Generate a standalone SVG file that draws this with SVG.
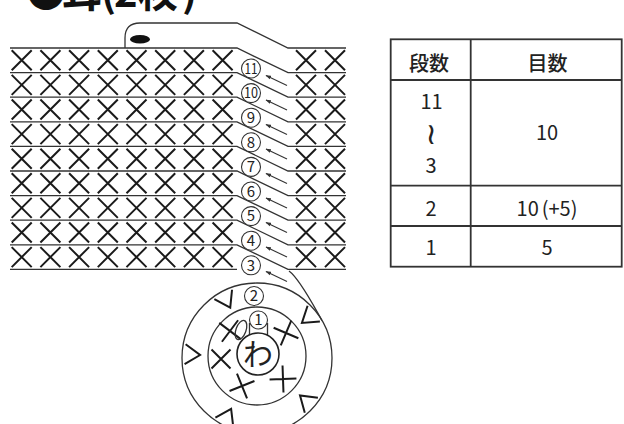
<svg xmlns="http://www.w3.org/2000/svg" width="624" height="424" viewBox="0 0 624 424">
<style>
.ln{fill:none;stroke:#333;stroke-width:1.3}
.st{fill:none;stroke:#1a1a1a;stroke-width:2;stroke-linecap:butt}
.ar{fill:none;stroke:#333;stroke-width:1.1}
.cn{fill:#fff;stroke:#333;stroke-width:1.1}
.num{font-family:"Noto Sans CJK JP","Noto Sans",sans-serif;font-size:15px;fill:#222;text-anchor:middle}
.tb{fill:none;stroke:#333;stroke-width:1.8}
.th{font-family:"Noto Sans CJK JP",sans-serif;font-size:20px;font-weight:500;fill:#222;text-anchor:middle}
.td{font-family:"Noto Sans CJK JP","Noto Sans",sans-serif;font-size:20px;fill:#222;text-anchor:middle}
</style>
<defs>
<path id="x" d="M-10,-10 L10,10 M10,-10 L-10,10" class="st"/>
<path id="xr" d="M-9.5,-9.5 L9.5,9.5 M9.5,-9.5 L-9.5,9.5" class="st"/>
<path id="v" d="M72,-10 L57,0 L72,10" class="st"/>
<g id="rowx">
<use href="#x" x="21.7"/><use href="#x" x="50.4"/><use href="#x" x="79.1"/><use href="#x" x="107.8"/>
<use href="#x" x="136.5"/><use href="#x" x="165.2"/><use href="#x" x="193.9"/><use href="#x" x="222.6"/>
<use href="#x" x="306"/><use href="#x" x="335"/>
</g>
<marker id="ah" viewBox="0 0 10 10" refX="9" refY="5" markerWidth="5" markerHeight="5" orient="auto"><path d="M0,1.5 L10,5 L0,8.5 z" fill="#333"/></marker>
</defs>

<g id="title">
<text x="26 62 101 114 138 182" y="7" font-family="Noto Sans CJK JP, sans-serif" font-size="40" font-weight="bold" fill="#111">●耳(2枚)</text>
</g>

<g id="connectors">
<path class="ln" d="M125,48 L125,38 Q125,23 140,23 L237,23 L288,48 L346,48"/>
<path class="ln" d="M10,48 L237,48 L288,72.6 L346,72.6"/>
<path class="ln" d="M10,72.6 L237,72.6 L288,97.2 L346,97.2"/>
<path class="ln" d="M10,97.2 L237,97.2 L288,121.8 L346,121.8"/>
<path class="ln" d="M10,121.8 L237,121.8 L288,146.4 L346,146.4"/>
<path class="ln" d="M10,146.4 L237,146.4 L288,171 L346,171"/>
<path class="ln" d="M10,171 L237,171 L288,195.6 L346,195.6"/>
<path class="ln" d="M10,195.6 L237,195.6 L288,220.2 L346,220.2"/>
<path class="ln" d="M10,220.2 L237,220.2 L288,244.8 L346,244.8"/>
<path class="ln" d="M10,244.8 L237,244.8 L288,269.4 L346,269.4"/>
<path class="ln" d="M10,269.4 L237,269.4"/>
<path class="ln" d="M289,271 C300,279 314,306.6 322,320.5"/>
<g marker-end="url(#ah)">
<line class="ar" x1="287" y1="85.5" x2="266" y2="75.5"/>
<line class="ar" x1="287" y1="110" x2="266" y2="100"/>
<line class="ar" x1="287" y1="134.5" x2="266" y2="124.5"/>
<line class="ar" x1="287" y1="159" x2="266" y2="149"/>
<line class="ar" x1="287" y1="183.5" x2="266" y2="173.5"/>
<line class="ar" x1="287" y1="208" x2="266" y2="198"/>
<line class="ar" x1="287" y1="232.5" x2="266" y2="222.5"/>
<line class="ar" x1="287" y1="257" x2="266" y2="247"/>
<line class="ar" x1="287" y1="281.5" x2="266" y2="271.5"/>
</g>
</g>

<g id="chain-start">
<ellipse cx="140" cy="39.3" rx="10" ry="4.3" fill="#111"/>
</g>

<g id="row11"><use href="#rowx" y="60.3"/><circle class="cn" cx="251" cy="68.5" r="9.5"/><text class="num" x="251" y="73.8" textLength="13" lengthAdjust="spacingAndGlyphs">11</text></g>
<g id="row10"><use href="#rowx" y="84.9"/><circle class="cn" cx="251" cy="93.1" r="9.5"/><text class="num" x="251" y="98.4" textLength="14" lengthAdjust="spacingAndGlyphs">10</text></g>
<g id="row9"><use href="#rowx" y="109.5"/><circle class="cn" cx="251" cy="117.7" r="9.5"/><text class="num" x="251" y="123">9</text></g>
<g id="row8"><use href="#rowx" y="134.1"/><circle class="cn" cx="251" cy="142.3" r="9.5"/><text class="num" x="251" y="147.6">8</text></g>
<g id="row7"><use href="#rowx" y="158.7"/><circle class="cn" cx="251" cy="166.9" r="9.5"/><text class="num" x="251" y="172.2">7</text></g>
<g id="row6"><use href="#rowx" y="183.3"/><circle class="cn" cx="251" cy="191.5" r="9.5"/><text class="num" x="251" y="196.8">6</text></g>
<g id="row5"><use href="#rowx" y="207.9"/><circle class="cn" cx="251" cy="216.1" r="9.5"/><text class="num" x="251" y="221.4">5</text></g>
<g id="row4"><use href="#rowx" y="232.5"/><circle class="cn" cx="251" cy="240.7" r="9.5"/><text class="num" x="251" y="246">4</text></g>
<g id="row3"><use href="#rowx" y="257.1"/><circle class="cn" cx="251" cy="265.3" r="9.5"/><text class="num" x="251" y="270.6">3</text></g>

<g id="round2">
<circle class="ln" cx="257" cy="358" r="75"/>
<g transform="translate(257,358)">
<use href="#v" transform="rotate(-118)"/>
<use href="#v" transform="rotate(-38)"/>
<use href="#v" transform="rotate(41)"/>
<use href="#v" transform="rotate(117)"/>
<use href="#v" transform="rotate(183)"/>
</g>
<circle class="cn" cx="254" cy="296" r="9.5"/>
<text class="num" x="254" y="301.3">2</text>
</g>

<g id="round1">
<circle class="ln" cx="257" cy="356" r="49"/>
<use href="#xr" transform="translate(230,331) rotate(-8)"/>
<use href="#xr" transform="translate(221,359)"/>
<use href="#xr" transform="translate(242,386) rotate(23)"/>
<use href="#xr" transform="translate(283,379) rotate(43)"/>
<use href="#xr" transform="translate(286,333) rotate(-22)"/>
<ellipse class="ln" cx="241" cy="330" rx="5" ry="10" transform="rotate(20 241 330)"/>
<path class="ln" d="M249.5,323 L249.5,336 M267.5,323 L267.5,336"/>
<circle class="cn" cx="258.5" cy="320" r="9"/>
<text class="num" x="258.5" y="325.3">1</text>
</g>

<g id="ring">
<circle cx="258" cy="354" r="21" fill="#fff" stroke="#222" stroke-width="1.6"/>
<text x="258" y="365" font-family="Noto Sans CJK JP, sans-serif" font-size="30" fill="#222" text-anchor="middle">わ</text>
</g>

<g id="table">
<rect class="tb" x="390.7" y="39.3" width="231" height="227.4"/>
<line class="tb" x1="470.7" y1="39.3" x2="470.7" y2="266.7"/>
<line class="tb" x1="390.7" y1="80" x2="621.7" y2="80"/>
<line class="tb" x1="390.7" y1="185.7" x2="621.7" y2="185.7"/>
<line class="tb" x1="390.7" y1="226" x2="621.7" y2="226"/>
<text class="th" x="429" y="70.5">段数</text>
<text class="th" x="547.5" y="70.5">目数</text>
<text class="td" x="431.5" y="109">11</text>
<text x="431" y="144" font-family="DejaVu Sans, sans-serif" font-size="30" fill="#222" text-anchor="middle">≀</text>
<text class="td" x="431" y="173.3">3</text>
<text class="td" x="547" y="140">10</text>
<text class="td" x="431" y="216.3">2</text>
<text class="td" x="547" y="216.3">10<tspan dx="3">(+5)</tspan></text>
<text class="td" x="431" y="255.3">1</text>
<text class="td" x="547" y="255.3">5</text>
</g>
</svg>
